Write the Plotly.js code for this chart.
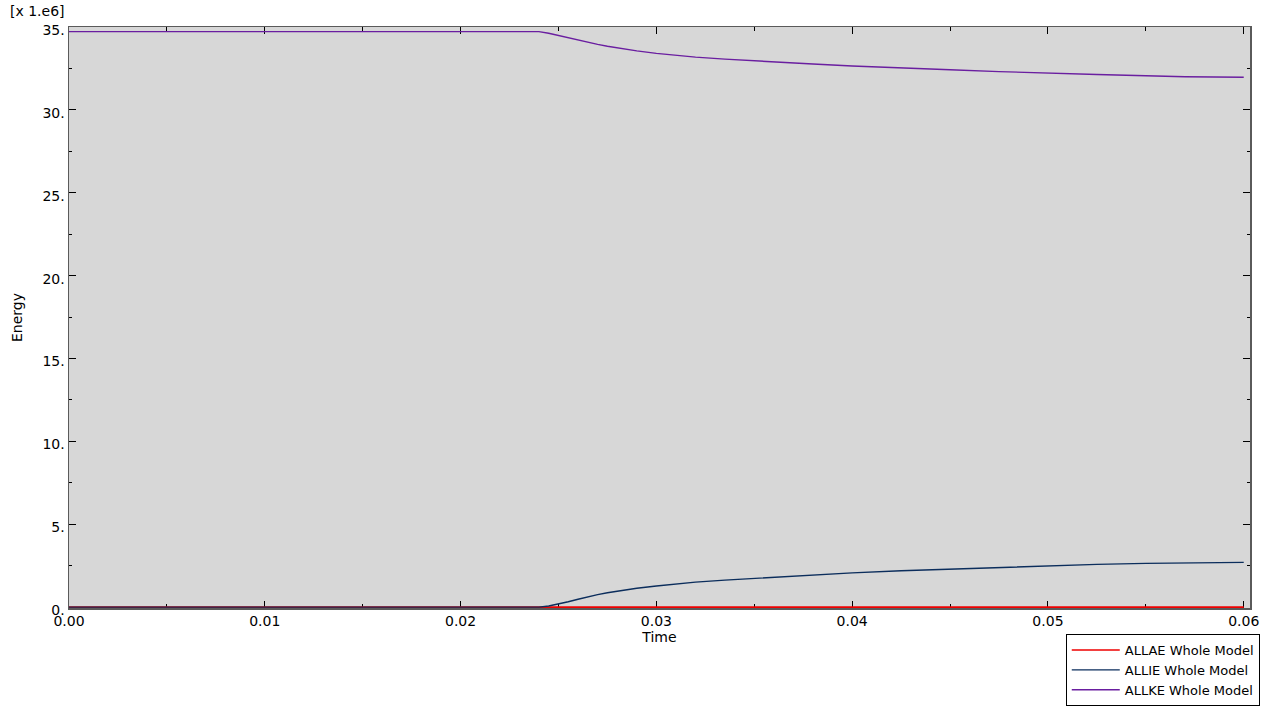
<!DOCTYPE html>
<html>
<head>
<meta charset="utf-8">
<script src="https://cdn.plot.ly/plotly-3.0.1.min.js"></script>
<style>
  html, body { margin: 0; padding: 0; background: #fff; }
  #chart { width: 1277px; height: 711px; }
</style>
</head>
<body>
<div id="chart"></div>
<script>
// Time history, energies in units of 1e6
const time = [0, 0.024, 0.0245, 0.025, 0.0255, 0.026, 0.0265, 0.027, 0.0275, 0.028, 0.029, 0.030,
              0.031, 0.032, 0.0335, 0.035, 0.0365, 0.038, 0.040, 0.0425, 0.045, 0.0475,
              0.050, 0.0525, 0.055, 0.057, 0.060];
const allae = [0, 0, 0, 0, 0, 0, 0, 0, 0, 0, 0, 0, 0, 0, 0, 0, 0, 0, 0, 0, 0, 0, 0, 0, 0, 0, 0];
const allie = [0, 0, 0.07, 0.18, 0.33, 0.48, 0.63, 0.76, 0.87, 0.97, 1.14, 1.28,
               1.40, 1.51, 1.63, 1.74, 1.85, 1.94, 2.07, 2.20, 2.30, 2.40,
               2.50, 2.58, 2.64, 2.68, 2.70];
const allke = [34.72, 34.72, 34.62, 34.48, 34.34, 34.20, 34.07, 33.95, 33.84, 33.74, 33.56, 33.41,
               33.29, 33.18, 33.06, 32.95, 32.86, 32.77, 32.65, 32.52, 32.42, 32.31,
               32.21, 32.13, 32.06, 32.00, 31.97];

const xTickVals = [0, 0.01, 0.02, 0.03, 0.04, 0.05, 0.06];
const xTickText = ['0.00', '0.01', '0.02', '0.03', '0.04', '0.05', '0.06'];
const yTickVals = [0, 5, 10, 15, 20, 25, 30, 35];
const yTickText = ['0.', '5.', '10.', '15.', '20.', '25.', '30.', '35.'];

const font = 'DejaVu Sans, Verdana, sans-serif';

const traces = [
  { x: time, y: allae, type: 'scatter', mode: 'lines', name: 'ALLAE Whole Model',
    line: {color: '#ee0000', width: 1.6} },
  { x: time, y: allie, type: 'scatter', mode: 'lines', name: 'ALLIE Whole Model',
    line: {color: '#0b2d5c', width: 1.4} },
  { x: time, y: allke, type: 'scatter', mode: 'lines', name: 'ALLKE Whole Model',
    line: {color: '#6a1ea0', width: 1.4} }
];

const axisCommon = {
  showgrid: false, zeroline: false, layer: 'below traces',
  showline: true, linecolor: '#5a5a5a', linewidth: 1.5, mirror: 'allticks',
  ticks: 'inside', ticklen: 7, tickwidth: 1, tickcolor: '#000',
  tickfont: {family: font, size: 14, color: '#000'}
};

const layout = {
  width: 1277, height: 711,
  margin: {l: 69, r: 27, t: 27, b: 103, autoexpand: false},
  paper_bgcolor: '#ffffff',
  plot_bgcolor: '#d7d7d7',
  font: {family: font, size: 14, color: '#000'},
  showlegend: true,
  xaxis: Object.assign({}, axisCommon, {
    range: [0, 0.06032],
    tickmode: 'array', tickvals: xTickVals, ticktext: xTickText,
    minor: {dtick: 0.005, tick0: 0, ticks: 'inside', ticklen: 4, tickcolor: '#000', showgrid: false},
    title: {text: 'Time', font: {family: font, size: 14, color: '#000'}, standoff: 4}
  }),
  yaxis: Object.assign({}, axisCommon, {
    range: [-0.05, 35],
    tickmode: 'array', tickvals: yTickVals, ticktext: yTickText,
    ticklabelshift: 3,
    minor: {dtick: 2.5, tick0: 0, ticks: 'inside', ticklen: 3, tickcolor: '#000', showgrid: false},
    title: {text: 'Energy', font: {family: font, size: 14, color: '#000'}, standoff: 16}
  }),
  legend: {
    x: 0.844, y: -0.1687, xanchor: 'left', yanchor: 'bottom',
    bgcolor: '#ffffff', bordercolor: '#000', borderwidth: 1,
    font: {family: font, size: 13, color: '#000'},
    tracegroupgap: 0, itemwidth: 48
  },
  annotations: [
    { text: '[x 1.e6]', xref: 'paper', yref: 'paper', x: -0.052, y: 1.027,
      xanchor: 'left', yanchor: 'middle', showarrow: false,
      font: {family: font, size: 14, color: '#000'} }
  ]
};

Plotly.newPlot('chart', traces, layout, {displayModeBar: false, staticPlot: true});
</script>
</body>
</html>
